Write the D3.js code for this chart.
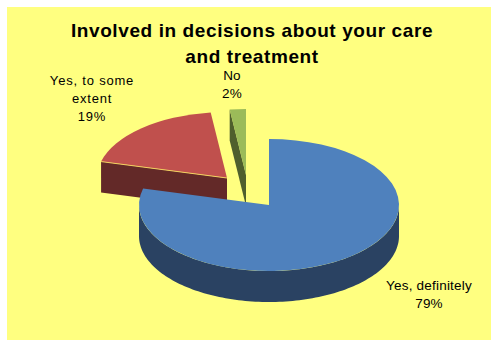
<!DOCTYPE html>
<html>
<head>
<meta charset="utf-8">
<script src="https://cdn.jsdelivr.net/npm/d3@7/dist/d3.min.js"></script>
<style>
html,body{margin:0;padding:0;background:#fff;}
svg{display:block;}
text{font-family:"Liberation Sans",Arial,sans-serif;fill:#000;}
</style>
</head>
<body>
<svg id="chart" width="491" height="340"></svg>
<script>
const categories = ["Yes, definitely", "Yes, to some extent", "No"];
const values = [79, 19, 2];
const topColors = ["#4F81BD", "#C0504D", "#9BBB59"];
const wallColors = ["#2A4262", "#632928", "#4F5F2D"];
const titleLines = ["Involved in decisions about your care", "and treatment"];
const labelLines = [["Yes, definitely", "79%"], ["Yes, to some", "extent", "19%"], ["No", "2%"]];

const svg = d3.select("#chart");
const W = 491, H = 340;
const rx = 130, ry = 66, depth = 31;

// Pulled-out slice centres, in page pixels
const centres = [[269, 205], [227, 178], [246, 175]];
const labelX = [429, 92, 232];
const labelY = [290, 85, 80];
const labelStep = [18, 18, 18];
const labelSpacing = [0.2, 0.8, 0.2];

svg.append("rect").attr("x", 7).attr("y", 7).attr("width", W - 7).attr("height", H - 7).attr("fill", "#FFFF80");

const title = svg.append("text").attr("text-anchor", "middle")
  .style("font-size", "19px").style("font-weight", "bold").style("letter-spacing", "0.6px");
titleLines.forEach((t, i) => title.append("tspan").attr("x", 252).attr("y", 37 + i * 26).text(t));

const arcs = d3.pie().sort(null)(values);
const arc = d3.arc().innerRadius(0).outerRadius(rx);

// Point on the tilted rim; angle is clockwise from 12 o'clock
const rim = (c, a, dy = 0) => [c[0] + rx * Math.sin(a), c[1] - ry * Math.cos(a) + dy];

function wallPath(c, d) {
  const parts = [];
  // Outer wall: only the part of the rim facing the viewer
  const a0 = Math.max(d.startAngle, Math.PI / 2);
  const a1 = Math.min(d.endAngle, 3 * Math.PI / 2);
  if (a1 > a0) {
    const steps = d3.range(0, 121).map(i => a0 + (a1 - a0) * i / 120);
    const pts = steps.map(a => rim(c, a)).concat(steps.slice().reverse().map(a => rim(c, a, depth)));
    parts.push(d3.line()(pts) + "Z");
  }
  // Cut face along the leading edge of a pulled-out slice
  if (d.index > 0) {
    const edge = rim(c, d.startAngle);
    parts.push(d3.line()([c, edge, [edge[0], edge[1] + depth], [c[0], c[1] + depth]]) + "Z");
  }
  return parts.join("");
}

// Drawn back to front: the two pulled-out slices, then the large slice over them
[1, 2, 0].forEach(i => {
  const d = arcs[i], c = centres[i];
  svg.append("path").attr("d", wallPath(c, d)).attr("fill", wallColors[i]);
  svg.append("path").attr("d", arc(d))
    .attr("transform", `translate(${c[0]},${c[1]}) scale(1,${ry / rx})`)
    .attr("fill", topColors[i]);
  if (i === 1) {
    const e = rim(c, d.startAngle);
    svg.append("line").attr("x1", c[0]).attr("y1", c[1]).attr("x2", e[0]).attr("y2", e[1])
      .attr("stroke", "#F2D060").attr("stroke-width", 1);
  }
});

labelLines.forEach((lines, i) => {
  const t = svg.append("text").attr("text-anchor", "middle")
    .style("font-size", "13.5px").style("letter-spacing", labelSpacing[i] + "px");
  if (i === 1) t.style("font-size", "13px");
  lines.forEach((s, j) => t.append("tspan").attr("x", labelX[i]).attr("y", labelY[i] + j * labelStep[i]).text(s));
});
</script>
</body>
</html>
